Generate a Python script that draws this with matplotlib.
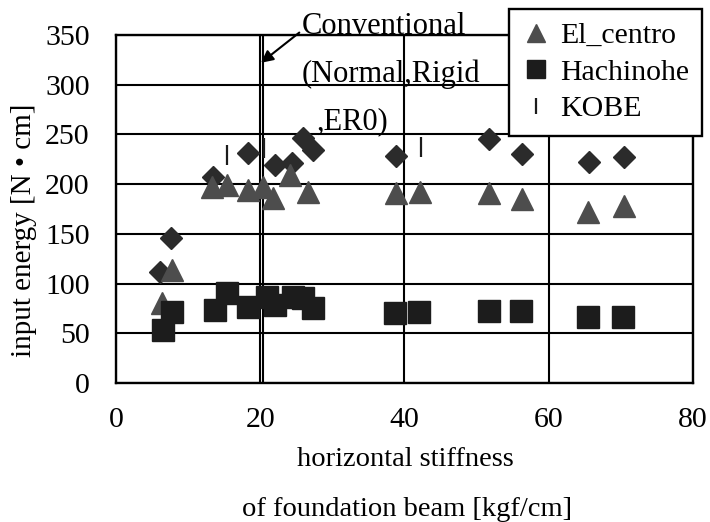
import matplotlib.pyplot as plt

plt.rcParams['font.family'] = ['Liberation Serif', 'DejaVu Serif']

# El_centro (triangles)
el_x = [6.4, 7.8, 13.3, 15.4, 18.3, 20.4, 21.8, 24.1, 26.6, 38.8, 42.1, 51.7, 56.3, 65.4, 70.4]
el_y = [80, 114, 197, 199, 194, 197, 186, 209, 192, 191, 192, 191, 185, 172, 178]

# Hachinohe (squares)
ha_x = [6.5, 7.8, 13.7, 15.4, 18.3, 20.9, 22.0, 24.5, 25.9, 27.3, 38.7, 42.0, 51.7, 56.2, 65.4, 70.3]
ha_y = [53, 71, 73, 91, 76, 86, 78, 86, 85, 75, 70, 71, 72, 72, 66, 66]

# KOBE (diamonds drawn in the plot, "|" in the legend)
kd_x = [7.6, 6.1, 13.4, 18.3, 22.0, 24.4, 25.9, 27.3, 38.8, 51.7, 56.3, 65.6, 70.4]
kd_y = [146, 112, 207, 231, 219, 221, 246, 234, 228, 245, 230, 222, 227]

kb_x = [15.4, 20.5, 42.3]
kb_y = [229, 236, 237]

conventional_x = 20.4

fig = plt.figure(figsize=(7.1, 5.22), dpi=100)
ax = fig.add_axes([0.1634, 0.2663, 0.8126, 0.6667])

ax.set_xlim(0, 80)
ax.set_ylim(0, 350)
ax.set_xticks([0, 20, 40, 60, 80])
ax.set_yticks(range(0, 351, 50))
ax.grid(True, color='black', lw=1.5)
ax.set_axisbelow(True)
for s in ax.spines.values():
    s.set_linewidth(1.7)
ax.tick_params(length=0, labelsize=21.5)
ax.tick_params(axis='x', pad=17)
ax.tick_params(axis='y', pad=19)

ax.axvline(conventional_x, color='black', lw=1.5)

ax.plot(kd_x, kd_y, 'D', color='#2b2b2b', ms=11, mec='#2b2b2b', ls='none')
ax.plot(el_x, el_y, '^', color='#4d4d4d', ms=16, mec='#4d4d4d', ls='none', label='El_centro')
ax.plot(ha_x, ha_y, 's', color='#1c1c1c', ms=16, mec='#1c1c1c', ls='none', label='Hachinohe')
ax.plot(kb_x, kb_y, '|', color='#1c1c1c', ms=14, mew=1.6, ls='none', label='KOBE')

ax.annotate('Conventional', xy=(20.1, 322), xytext=(25.8, 359),
            fontsize=22, ha='left', va='center', annotation_clip=False,
            arrowprops=dict(arrowstyle='-|>', color='black', lw=1.5,
                            mutation_scale=18, shrinkA=0, shrinkB=0,
                            relpos=(0, 0.35)))
ax.text(25.8, 310, '(Normal,Rigid', fontsize=22, ha='left', va='center', clip_on=False)
ax.text(27.8, 263, ',ER0)', fontsize=22, ha='left', va='center', clip_on=False)

leg = ax.legend(loc='upper right', bbox_to_anchor=(0.989, 0.983),
                bbox_transform=fig.transFigure, fontsize=21.5, fancybox=False,
                framealpha=1, edgecolor='black', borderaxespad=0,
                handlelength=0.9, handletextpad=0.35, labelspacing=0.32,
                borderpad=0.45, markerscale=0.85)
leg.get_frame().set_linewidth(1.7)

fig.text(24 / 710, 1 - 230 / 522, 'input energy [N \u2022 cm]', rotation=90,
         fontsize=21, ha='center', va='center')
fig.text(405 / 710, 1 - 459 / 522, 'horizontal stiffness', fontsize=20.5,
         ha='center', va='center')
fig.text(407 / 710, 1 - 509 / 522, 'of foundation beam [kgf/cm]', fontsize=20.5,
         ha='center', va='center')

fig.savefig('out.png', dpi=100)
